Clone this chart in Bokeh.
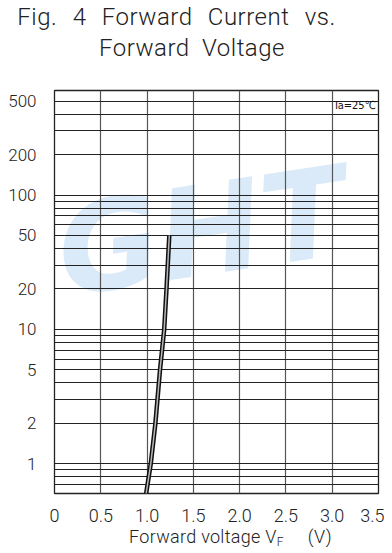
from bokeh.plotting import figure
from bokeh.layouts import column
from bokeh.models import FixedTicker, Label, CustomJSTickFormatter, PrintfTickFormatter, Div
from bokeh.embed import file_html
from bokeh.resources import INLINE

# ---- data ----
vf = [0.99, 1.04, 1.09, 1.14, 1.185, 1.21, 1.24]      # forward voltage (V)
if_ma = [0.6, 1, 2, 5, 10, 20, 50]                      # forward current (mA)
x_ticks = [0, 0.5, 1.0, 1.5, 2.0, 2.5, 3.0, 3.5]
y_ticks = [1, 2, 5, 10, 20, 50, 100, 200, 500]
y_minor = [0.7, 0.8, 0.9, 3, 4, 6, 7, 8, 9, 30, 40, 60, 70, 80, 90, 300, 400]
title1 = "Fig. 4 Forward Current vs."
title2 = "Forward Voltage"
cond_text = "Ta=25℃"
watermark = "GHT"

TICK_FONT = "Roboto Light, DejaVu Sans"
DIV_FONT = "'Roboto Light', 'Roboto', 'DejaVu Sans'"
TXT = "#222222"

title_div = Div(width=384, height=78, margin=0, text=(
    f'<div style="font-family:{DIV_FONT}; font-weight:300; font-size:24px; line-height:31px; color:{TXT};'
    f' padding-top:2px; white-space:nowrap;">'
    f'<div style="width:353px; text-align:center; letter-spacing:0.5px; word-spacing:9px;">{title1}</div>'
    f'<div style="width:384px; text-align:center; letter-spacing:0.5px; word-spacing:6px;">{title2}</div></div>'))

p = figure(frame_width=324, frame_height=403, y_axis_type="log",
           x_range=(0, 3.5), y_range=(0.6, 600),
           output_backend="svg", toolbar_location=None,
           min_border_left=54, min_border_right=6,
           min_border_top=12, min_border_bottom=34, margin=0)
p.background_fill_color = "white"
p.border_fill_color = "white"

# watermark (kept inside the frame)
p.add_layout(Label(x=4, y=240, x_units="screen", y_units="screen", text=watermark,
                   text_font="DejaVu Sans", text_font_size="124px", text_font_style="bold italic",
                   text_color="#dbeaf8", angle=0.15, level="image",
                   text_baseline="middle", text_align="left"))

# axes
p.xaxis.ticker = FixedTicker(ticks=x_ticks)
p.xaxis.formatter = CustomJSTickFormatter(code="return tick == 0 ? '0' : tick.toFixed(1);")
p.yaxis.ticker = FixedTicker(ticks=y_ticks, minor_ticks=y_minor)
p.yaxis.formatter = PrintfTickFormatter(format="%d")
for ax in (p.xaxis, p.yaxis):
    ax.axis_line_color = None
    ax.major_tick_line_color = None
    ax.minor_tick_line_color = None
    ax.major_label_text_font = TICK_FONT
    ax.major_label_text_color = TXT
p.xaxis.major_label_text_font_size = "18px"
p.yaxis.major_label_text_font_size = "17px"
p.xaxis.major_label_standoff = 9
p.yaxis.major_label_standoff = 12

p.xgrid.grid_line_color = "#555555"
p.xgrid.grid_line_width = 1.2
p.ygrid.grid_line_color = "#222222"
p.ygrid.minor_grid_line_color = "#222222"
p.ygrid.grid_line_width = 1
p.ygrid.minor_grid_line_width = 1
p.outline_line_color = "#222222"
p.outline_line_width = 1.3

# curve (double-stroked)
p.line(vf, if_ma, line_width=4.5, color="#111111", line_join="miter")
p.line(vf, if_ma, line_width=1.5, color="#b8b8b8", line_join="miter")

# condition text
p.add_layout(Label(x=279, y=388, x_units="screen", y_units="screen", text=cond_text,
                   text_font="DejaVu Sans Condensed, DejaVu Sans", text_font_size="11px",
                   text_color="#111111", text_baseline="middle", text_align="left"))

xlabel_div = Div(width=384, height=18, margin=0, text=(
    f'<div style="font-family:{DIV_FONT}; font-weight:300; font-size:18px;'
    f' line-height:18px; color:{TXT}; padding-left:129px; padding-top:1px; white-space:nowrap; letter-spacing:0.3px;">'
    f'<span>Forward voltage V</span>'
    f'<span style="font-size:12px; position:relative; top:3px;">F</span>'
    f'<span style="margin-left:24px;">(V)</span></div>'))

layout = column(title_div, p, xlabel_div, spacing=0, margin=0)

open("out.html", "w").write(file_html(layout, INLINE))
